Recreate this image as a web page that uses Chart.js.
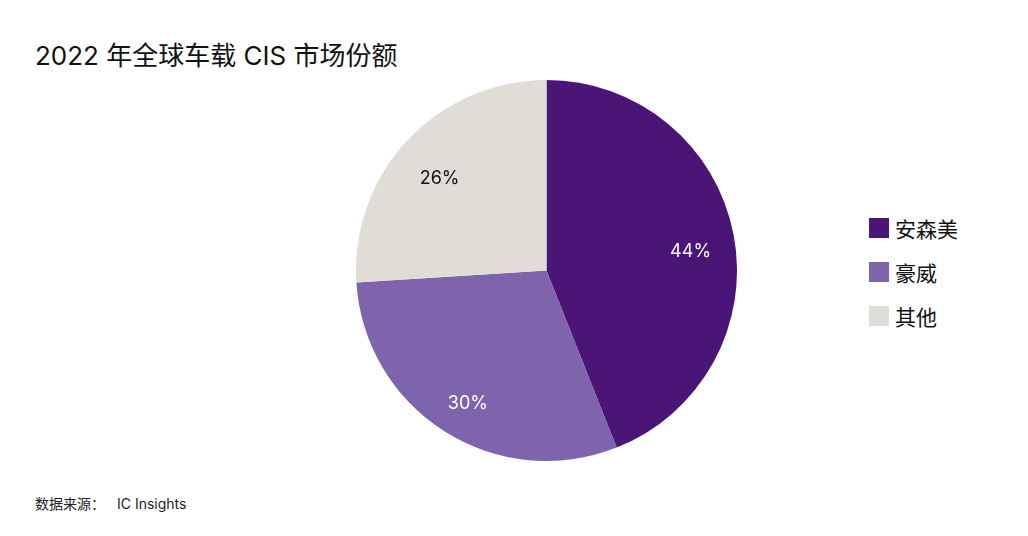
<!DOCTYPE html>
<html>
<head>
<meta charset="utf-8">
<script src="https://cdn.jsdelivr.net/npm/chart.js@4"></script>
<style>
  html, body { margin:0; padding:0; background:#fff; }
  body { width:1028px; height:536px; position:relative; overflow:hidden;
         font-family: "Inter", "Noto Sans CJK SC", sans-serif; color:#111; }
  .title { position:absolute; left:35px; top:35px; font-size:26px; font-weight:400; white-space:nowrap; }
  .source { position:absolute; left:35px; top:493px; font-size:14px; color:#222; white-space:nowrap; }
  .source span { margin-left:12px; }
  .pie-box { position:absolute; left:356px; top:80px; width:381px; height:381px; }
  .legend { position:absolute; left:869px; top:216px; }
  .legend-item { display:flex; align-items:center; height:24px; margin-bottom:20px; font-size:21px; font-weight:400; }
  .legend-swatch { width:20px; height:20px; margin-right:6px; }
</style>
</head>
<body>
  <div class="title">2022 年全球车载 CIS 市场份额</div>
  <div class="pie-box"><canvas id="pie"></canvas></div>
  <div class="legend" id="legend"></div>
  <div class="source">数据来源：<span>IC Insights</span></div>

<script>
  // data
  var CATEGORIES = ['安森美', '豪威', '其他'];
  var SHARES = [44, 30, 26];
  var COLORS = ['#4B1578', '#7E64AC', '#E0DDD7'];
  var LABEL_COLORS = ['#ffffff', '#ffffff', '#111111'];

  // draws the % label inside each slice (slightly below the mid-angle point)
  var sliceLabels = {
    id: 'sliceLabels',
    afterDatasetsDraw: function(chart) {
      var ctx = chart.ctx;
      var meta = chart.getDatasetMeta(0);
      ctx.save();
      ctx.font = '400 18px Inter, "Noto Sans", sans-serif';
      ctx.textAlign = 'center';
      ctx.textBaseline = 'middle';
      meta.data.forEach(function(arc, i) {
        var p = arc.getProps(['x', 'y', 'startAngle', 'endAngle', 'outerRadius'], true);
        var mid = (p.startAngle + p.endAngle) / 2;
        var r = p.outerRadius * 0.77;
        ctx.fillStyle = LABEL_COLORS[i];
        ctx.fillText(SHARES[i] + '%', p.x + Math.cos(mid) * r, p.y + Math.sin(mid) * r + 9);
      });
      ctx.restore();
    }
  };

  new Chart(document.getElementById('pie'), {
    type: 'pie',
    data: {
      labels: CATEGORIES,
      datasets: [{
        data: SHARES,
        backgroundColor: COLORS,
        borderWidth: 0
      }]
    },
    options: {
      responsive: true, maintainAspectRatio: true, aspectRatio: 1,
      animation: false,
      layout: { padding: 0 },
      plugins: { legend: { display: false }, tooltip: { enabled: false } }
    },
    plugins: [sliceLabels]
  });

  document.getElementById('legend').innerHTML = CATEGORIES.map(function(c, i) {
    return '<div class="legend-item"><span class="legend-swatch" style="background:' + COLORS[i] + '"></span>' + c + '</div>';
  }).join('');
</script>
</body>
</html>
